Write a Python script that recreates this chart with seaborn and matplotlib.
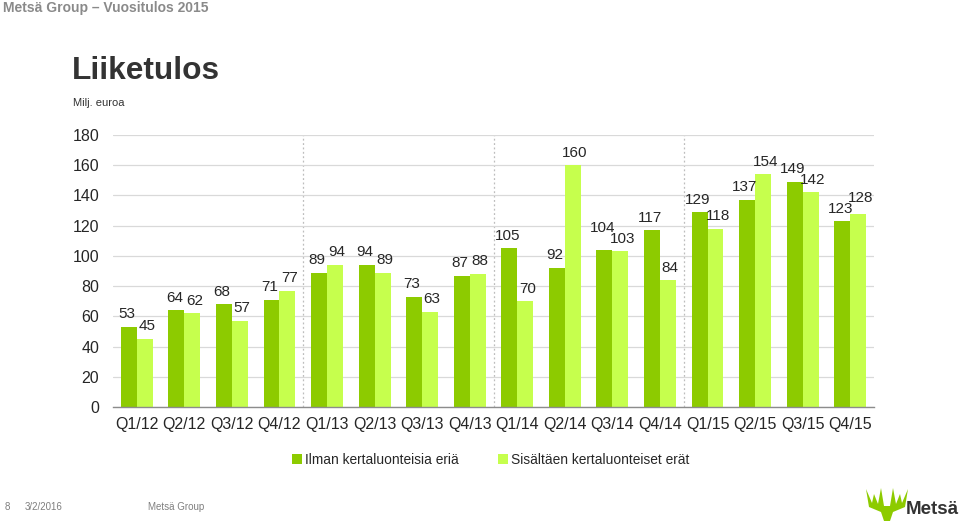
import matplotlib
matplotlib.use("Agg")
import matplotlib.pyplot as plt
from matplotlib.patches import Polygon
from matplotlib.lines import Line2D
import seaborn as sns
import pandas as pd

# ---- data ----
quarters = ["Q1/12", "Q2/12", "Q3/12", "Q4/12", "Q1/13", "Q2/13", "Q3/13", "Q4/13",
            "Q1/14", "Q2/14", "Q3/14", "Q4/14", "Q1/15", "Q2/15", "Q3/15", "Q4/15"]
series_names = ["Ilman kertaluonteisia eriä", "Sisältäen kertaluonteiset erät"]
excl_items = [53, 64, 68, 71, 89, 94, 73, 87, 105, 92, 104, 117, 129, 137, 149, 123]
incl_items = [45, 62, 57, 77, 94, 89, 63, 88, 70, 160, 103, 84, 118, 154, 142, 128]
y_ticks = [0, 20, 40, 60, 80, 100, 120, 140, 160, 180]

colors = ["#8DCB00", "#C6FF4D"]

df = pd.DataFrame({
    "Quarter": quarters * 2,
    "Series": [series_names[0]] * len(quarters) + [series_names[1]] * len(quarters),
    "Value": excl_items + incl_items,
})

sns.set_theme(style="white")
plt.rcParams["font.family"] = ["Liberation Sans", "DejaVu Sans"]

W, H = 960, 524
fig = plt.figure(figsize=(W / 100, H / 100), dpi=100)
ax = fig.add_axes([113 / W, 1 - 407 / H, (874 - 113) / W, (407 - 135) / H])

sns.barplot(data=df, x="Quarter", y="Value", hue="Series", order=quarters,
            hue_order=series_names, palette=colors, width=0.67, saturation=1,
            linewidth=0, legend=False, ax=ax)

# value labels (stagger pairs whose labels would collide)
px_per_unit = (407 - 135) / 180.0
dark_bars, light_bars = ax.containers[0], ax.containers[1]
for bd, bl in zip(dark_bars, light_bars):
    hd, hl = bd.get_height(), bl.get_height()
    extra_d = extra_l = 0.0
    wide = max(len(f"{hd:.0f}"), len(f"{hl:.0f}")) >= 3
    gap_px = abs(hd - hl) * px_per_unit
    if wide and gap_px < 11:
        raise_px = 11 - gap_px
        if hd >= hl:
            extra_d = raise_px * 0.72
        else:
            extra_l = raise_px * 0.72
    for bar, h, dx, extra in [(bd, hd, -1.5, extra_d), (bl, hl, 1.5, extra_l)]:
        ax.annotate(f"{h:.0f}", (bar.get_x() + bar.get_width() / 2, h),
                    xytext=(dx, 4 + extra), textcoords="offset points",
                    ha="center", va="bottom", fontsize=11, color="#262626")

ax.set_ylim(0, 180)
ax.set_yticks(y_ticks)
ax.set_xlim(-0.5, len(quarters) - 0.5)
ax.yaxis.grid(True, color="#d9d9d9", linewidth=0.9)
ax.set_axisbelow(True)
for s in ["top", "right", "left"]:
    ax.spines[s].set_visible(False)
ax.spines["bottom"].set_color("#8c8c8c")
ax.spines["bottom"].set_linewidth(1.0)
ax.tick_params(axis="both", length=0, labelsize=11.5, colors="#262626")
ax.tick_params(axis="y", pad=10)
ax.tick_params(axis="x", pad=7)
ax.set_xlabel("")
ax.set_ylabel("")

# year separators
for xs in [3.5, 7.5, 11.5]:
    ax.axvline(xs, color="#bdbdbd", linestyle=(0, (1.5, 2)), linewidth=0.9, zorder=0)

# legend
handles = [Line2D([0], [0], marker="s", linestyle="", markersize=7,
                  markerfacecolor=c, markeredgewidth=0) for c in colors]
fig.legend(handles, series_names, loc="center", bbox_to_anchor=(491 / W, 1 - 460 / H),
           ncol=2, frameon=False, fontsize=9.9, handlelength=0.6, handletextpad=0.3,
           columnspacing=2.9, labelcolor="#262626")

# texts
fig.text(3 / W, 1 - 8 / H, "Metsä Group – Vuositulos 2015", fontsize=10,
         fontweight="bold", color="#8a8a8a", ha="left", va="center")
fig.text(72 / W, 1 - 71 / H, "Liiketulos", fontsize=22.8, fontweight="bold",
         color="#333333", ha="left", va="center")
fig.text(73 / W, 1 - 103 / H, "Milj. euroa", fontsize=8, color="#333333",
         ha="left", va="center")

fig.text(5 / W, 1 - 507 / H, "8", fontsize=7, color="#7f7f7f", ha="left", va="center")
fig.text(25 / W, 1 - 507 / H, "3/2/2016", fontsize=7, color="#7f7f7f", ha="left", va="center")
fig.text(148 / W, 1 - 507 / H, "Metsä Group", fontsize=7, color="#7f7f7f", ha="left", va="center")

# logo
pts = [(866, 489), (872, 503), (874, 494), (878, 504), (881, 488), (884, 506),
       (890, 506), (893, 488), (896, 504), (900, 494), (902, 503), (908, 489),
       (905, 507), (893, 512), (890, 521), (884, 521), (881, 512), (869, 507)]
fig.add_artist(Polygon([(x / W, 1 - y / H) for x, y in pts], closed=True,
                       transform=fig.transFigure, facecolor="#8DCB00", edgecolor="none"))
fig.text(906 / W, 1 - 510 / H, "Metsä", fontsize=13.5, fontweight="bold",
         color="#333333", ha="left", va="center")

fig.savefig("out.png", dpi=100)
